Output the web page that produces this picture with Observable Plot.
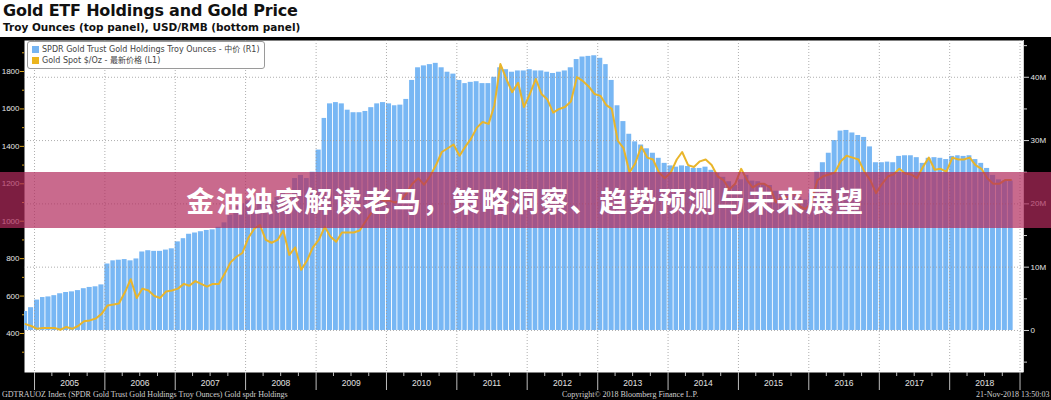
<!DOCTYPE html>
<html>
<head>
<meta charset="utf-8">
<script src="https://cdn.jsdelivr.net/npm/d3@7"></script>
<script src="https://cdn.jsdelivr.net/npm/@observablehq/plot@0.6"></script>
<style>
  html, body { margin: 0; padding: 0; }
  body { width: 1051px; height: 400px; overflow: hidden; position: relative; background: #fff;
         font-family: "DejaVu Sans", "Noto Sans CJK SC", sans-serif; }
  #title { position: absolute; left: 3px; top: 1px; font-weight: bold; font-size: 16px; color: #111; white-space: nowrap; letter-spacing: -0.2px; }
  #subtitle { position: absolute; left: 3px; top: 21px; font-weight: bold; font-size: 10.5px; color: #111; white-space: nowrap; }
  #panel { position: absolute; left: 0; top: 37px; width: 1051px; height: 363px; background: #000; }
  #legend { position: absolute; left: 27px; top: 41px; width: 236px; height: 26px; background: #fff;
            border: 1px solid #9a9a9a; border-radius: 3px; font-size: 8px; color: #444; }
  .li { position: absolute; left: 4px; white-space: nowrap; line-height: 10px; }
  .sw { display: inline-block; width: 7px; height: 7px; margin-right: 3px; vertical-align: -1px; }
  .foot { position: absolute; top: 390px; font-family: "Liberation Serif", serif; font-size: 8px; color: #d0d0d0; white-space: nowrap; }
  #banner { position: absolute; left: 0; top: 172px; width: 1051px; height: 56px; background: rgba(178, 43, 93, 0.70);
            display: flex; align-items: center; justify-content: center; }
  #banner span { color: #fff; font-family: "Noto Sans CJK SC", sans-serif; font-weight: 700; font-size: 28px; letter-spacing: 1.5px; }
</style>
</head>
<body>
<div id="title">Gold ETF Holdings and Gold Price</div>
<div id="subtitle">Troy Ounces (top panel), USD/RMB (bottom panel)</div>
<div id="panel"></div>
<div id="legend">
  <div class="li" style="top:3px"><span class="sw" style="background:#76b5f3"></span>SPDR Gold Trust Gold Holdings Troy Ounces - 中价 (R1)</div>
  <div class="li" style="top:14px"><span class="sw" style="background:#ebb51f"></span>Gold Spot $/Oz - 最新价格 (L1)</div>
</div>
<div class="foot" style="left:2px">GDTRAUOZ Index (SPDR Gold Trust Gold Holdings Troy Ounces) Gold spdr Holdings</div>
<div class="foot" style="left:562px">Copyright© 2018 Bloomberg Finance L.P.</div>
<div class="foot" style="left:976px">21-Nov-2018 13:50:03</div>
<div id="banner"><span>金油独家解读老马，策略洞察、趋势预测与未来展望</span></div>
<script>
// ---- DATA ----
// Monthly series, first month = Nov 2004, last month = Nov 2018
const firstMonth = "2004-11-01";
// SPDR Gold Trust holdings, millions of troy ounces (right axis)
const holdingsM = [
  3.0, 3.6,                                                            // 2004 Nov-Dec
  4.8, 5.2, 5.3, 5.5, 5.8, 6.0, 6.1, 6.3, 6.6, 6.8, 6.9, 7.2,          // 2005
  10.5, 11.0, 11.1, 11.2, 11.0, 11.3, 12.4, 12.6, 12.5, 12.5, 12.7, 12.9, // 2006
  14.0, 14.5, 15.2, 15.4, 15.6, 15.8, 15.9, 16.3, 17.0, 18.2, 19.6, 20.0, // 2007
  20.5, 20.8, 21.0, 20.4, 20.3, 21.0, 21.8, 21.5, 24.0, 24.5, 24.0, 25.0, // 2008
  28.5, 33.5, 35.8, 36.0, 35.8, 34.8, 34.4, 34.4, 34.6, 35.2, 35.8, 36.0, // 2009
  35.8, 35.5, 35.6, 36.5, 39.5, 41.5, 41.8, 42.0, 42.2, 41.5, 40.8, 40.5, // 2010
  39.5, 39.0, 39.2, 39.3, 39.0, 39.0, 40.0, 41.5, 41.2, 40.8, 41.0, 41.0, // 2011
  41.2, 41.0, 41.0, 40.8, 40.6, 40.8, 41.0, 41.5, 42.8, 43.2, 43.3, 43.4, // 2012
  43.0, 42.0, 39.5, 35.5, 33.0, 31.0, 29.8, 29.3, 28.7, 28.0, 27.2, 26.4, // 2013
  26.0, 25.8, 26.0, 25.9, 25.6, 25.6, 25.8, 25.3, 24.8, 24.2, 23.5, 22.9, // 2014
  23.8, 24.5, 23.6, 23.5, 23.1, 22.9, 22.0, 21.7, 21.9, 22.0, 21.0, 20.6, // 2015
  21.5, 25.0, 26.5, 28.0, 30.0, 31.5, 31.6, 31.2, 30.8, 30.5, 29.0, 26.5, // 2016
  26.5, 26.6, 26.5, 27.5, 27.6, 27.6, 27.3, 26.4, 27.2, 27.3, 27.2, 27.0, // 2017
  27.5, 27.6, 27.5, 27.6, 27.0, 26.4, 25.6, 24.5, 23.8, 23.6, 23.6        // 2018 Jan-Nov
];
// Gold spot, USD per ounce (left axis)
const goldUSD = [
  450, 440,
  425, 430, 430, 430, 420, 435, 425, 440, 465, 470, 480, 505,
  550, 555, 560, 620, 690, 590, 640, 630, 600, 590, 625, 630,
  640, 665, 655, 680, 665, 650, 665, 665, 720, 780, 810, 830,
  910, 960, 980, 900, 885, 900, 950, 820, 860, 740, 790, 860,
  900, 970, 920, 890, 940, 940, 940, 950, 1000, 1045, 1130, 1110,
  1110, 1100, 1110, 1150, 1200, 1230, 1195, 1240, 1300, 1370, 1390, 1410,
  1350, 1400, 1440, 1500, 1530, 1520, 1620, 1840, 1760, 1690, 1740, 1610,
  1680, 1760, 1680, 1650, 1580, 1600, 1610, 1640, 1770, 1750, 1720, 1680,
  1670, 1620, 1600, 1430, 1390, 1260, 1310, 1400, 1340, 1330, 1260, 1230,
  1260, 1330, 1370, 1300, 1290, 1320, 1330, 1300, 1240, 1220, 1170, 1200,
  1280, 1220, 1180, 1200, 1200, 1180, 1100, 1130, 1130, 1160, 1080, 1065,
  1100, 1220, 1240, 1250, 1260, 1320, 1350, 1340, 1330, 1265, 1220, 1150,
  1200, 1240, 1250, 1280, 1255, 1250, 1230, 1290, 1340, 1275, 1280, 1265,
  1340, 1330, 1330, 1340, 1300, 1280, 1230, 1200, 1200, 1220, 1220
];
const yearLabels = ["2005","2006","2007","2008","2009","2010","2011","2012","2013","2014","2015","2016","2017","2018"];
const leftTicks = [400, 600, 800, 1000, 1200, 1400, 1600, 1800];
const rightTicksM = [0, 10, 20, 30, 40];
const rightTickLabels = ["0", "10M", "20M", "30M", "40M"];

// ---- SCALES (dual axis) ----
const leftDomain = [191.6, 1965.7];      // USD at bottom/top of the plot frame
const rightDomainM = [-6.64, 45.81];     // millions oz at bottom/top of the plot frame
const toLeft = d3.scaleLinear().domain(rightDomainM).range(leftDomain);

const start = new Date(firstMonth);
const bars = holdingsM.map((h, i) => ({
  start: d3.utcMonth.offset(start, i),
  end: d3.utcMonth.offset(start, i + 1),
  h
}));
const gold = goldUSD.map((p, i) => ({ date: d3.utcDay.offset(d3.utcMonth.offset(start, i), 14), p }));
const yearStarts = yearLabels.map(y => new Date(`${y}-01-01`)).concat([new Date("2019-01-01")]);
const yearMids = yearLabels.map(y => ({ d: new Date(`${y}-07-02`), label: y }));
const quarters = yearLabels.flatMap(y => ["04", "07", "10"].map(m => new Date(`${y}-${m}-01`)));
const leftMinor = [300, 500, 700, 900, 1100, 1300, 1500, 1700, 1900];
const rightMinorM = [-5, 5, 15, 25, 35, 45];
const xDomain = [new Date("2004-11-10"), new Date("2019-01-19")];
const axisFont = "Liberation Sans, Arial, sans-serif";

const chart = Plot.plot({
  width: 1051,
  height: 363,
  marginTop: 3,
  marginBottom: 28,
  marginLeft: 24,
  marginRight: 28,
  style: { background: "#000", fontFamily: axisFont, fontSize: "8px", overflow: "visible" },
  x: { type: "utc", domain: xDomain, axis: null, label: null },
  y: { domain: leftDomain, axis: null, label: null },
  marks: [
    Plot.frame({ fill: "#fff", stroke: null }),
    Plot.rect(bars, {
      x1: "start", x2: "end",
      y1: () => toLeft(0), y2: d => toLeft(d.h),
      fill: "#78b7f4", insetRight: 0.9, clip: true
    }),
    Plot.ruleY(rightTicksM.map(t => toLeft(t)), { stroke: "#9a9a9a", strokeOpacity: 0.8, strokeDasharray: "1,2" }),
    Plot.ruleX(yearStarts, { stroke: "#9a9a9a", strokeOpacity: 0.8, strokeDasharray: "1,2" }),
    Plot.line(gold, { x: "date", y: "p", stroke: "#e9b52a", strokeWidth: 2, curve: "linear", clip: true }),
    // left axis (gold price)
    Plot.axisY(leftTicks, { anchor: "left", label: null, tickSize: 4, tickPadding: 1, stroke: "#d9a41c", fill: "#e4e4e4", fontSize: 8,
      tickFormat: d => String(d) }),
    Plot.axisY(leftMinor, { anchor: "left", label: null, tickSize: 2, stroke: "#d9a41c", tickFormat: () => "" }),
    // right axis (holdings)
    Plot.ruleX([xDomain[1]], { stroke: "#cfcfcf", strokeWidth: 1 }),
    Plot.axisY(rightTicksM.map(t => toLeft(t)), {
      anchor: "right", label: null, tickSize: 5, tickPadding: 2, stroke: "#cfcfcf", fill: "#e4e4e4", fontSize: 8,
      tickFormat: (d) => rightTickLabels[rightTicksM.indexOf(Math.round(toLeft.invert(d)))]
    }),
    Plot.axisY(rightMinorM.map(t => toLeft(t)), { anchor: "right", label: null, tickSize: 3, stroke: "#cfcfcf", tickFormat: () => "" }),
    // x axis
    Plot.axisX(yearStarts, { anchor: "bottom", label: null, tickSize: 18, stroke: "#bdbdbd", tickFormat: () => "" }),
    Plot.axisX(quarters, { anchor: "bottom", label: null, tickSize: 4, stroke: "#bdbdbd", tickFormat: () => "" }),
    Plot.text(yearMids, { x: "d", text: "label", frameAnchor: "bottom", dy: 13, fill: "#e0e0e0", fontSize: 8.5 })
  ]
});
document.getElementById("panel").appendChild(chart);
</script>
</body>
</html>
